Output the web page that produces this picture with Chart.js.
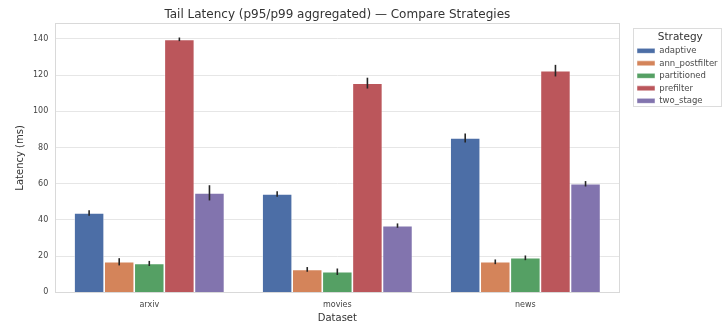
<!DOCTYPE html>
<html>
<head>
<meta charset="utf-8">
<script src="https://cdn.jsdelivr.net/npm/chart.js@4/dist/chart.umd.min.js"></script>
<style>
  html, body { margin: 0; padding: 0; background: #fff; }
  #wrap { width: 727px; height: 324px; }
</style>
</head>
<body>
<div id="wrap"><canvas id="c" width="727" height="324"></canvas></div>
<script>
// Datasets on the x axis
const datasets = ['arxiv', 'movies', 'news'];

// Strategies (one bar series each)
const strategies = ['adaptive', 'ann_postfilter', 'partitioned', 'prefilter', 'two_stage'];

// Mean tail latency (ms) per strategy, ordered as datasets
const adaptive      = [43.9, 54.4, 85.3];
const annPostfilter = [16.9, 12.7, 16.9];
const partitioned   = [16.0, 11.4, 19.1];
const prefilter     = [139.8, 115.6, 122.5];
const twoStage      = [55.0, 36.9, 60.0];

// Half-width of the error bars (ms)
const adaptiveErr      = [1.5, 1.5, 2.5];
const annPostfilterErr = [2.0, 1.3, 1.3];
const partitionedErr   = [1.4, 1.8, 1.3];
const prefilterErr     = [1.0, 3.0, 3.2];
const twoStageErr      = [4.2, 1.2, 1.5];

const seriesValues = [adaptive, annPostfilter, partitioned, prefilter, twoStage];
const seriesErrors = [adaptiveErr, annPostfilterErr, partitionedErr, prefilterErr, twoStageErr];
const palette = ['#4c6ea6', '#d4845a', '#55a064', '#bb565b', '#8274ae'];

const yTicks = [0, 20, 40, 60, 80, 100, 120, 140];

// Draws the error bars at each bar centre, using the value scale
const errorBars = {
  id: 'errorBars',
  afterDatasetsDraw(chart) {
    const ctx = chart.ctx;
    const y = chart.scales.y;
    ctx.save();
    ctx.strokeStyle = '#262626';
    ctx.lineWidth = 1.6;
    chart.data.datasets.forEach((ds, i) => {
      const meta = chart.getDatasetMeta(i);
      meta.data.forEach((bar, j) => {
        const v = ds.data[j], e = ds.errors[j];
        ctx.beginPath();
        ctx.moveTo(bar.x, y.getPixelForValue(v - e));
        ctx.lineTo(bar.x, y.getPixelForValue(v + e));
        ctx.stroke();
      });
    });
    ctx.restore();
  }
};

// Legend placement: top-right box beside the plot
const LEGEND_LEFT = 633;
const LEGEND_TOP = 28;
const LEGEND_BOX_W = 88;
const LEGEND_BOX_H = 78;

const boxPlacement = {
  id: 'boxPlacement',
  afterLayout(chart) {
    const lg = chart.legend;
    const w = lg.right - lg.left;
    lg.left = LEGEND_LEFT;
    lg.right = LEGEND_LEFT + w;
    lg.top = LEGEND_TOP;
    // centre the title over the plot area
    const t = chart.titleBlock;
    if (t) {
      t.left = chart.chartArea.left;
      t.right = chart.chartArea.right;
    }
  }
};

// Frame around the plot area and around the legend
const frames = {
  id: 'frames',
  afterDraw(chart) {
    const ctx = chart.ctx;
    const a = chart.chartArea;
    ctx.save();
    ctx.strokeStyle = '#d9d9d9';
    ctx.lineWidth = 1;
    ctx.strokeRect(Math.round(a.left) + 0.5, Math.round(a.top) + 0.5,
                   Math.round(a.right - a.left), Math.round(a.bottom - a.top));
    ctx.strokeStyle = '#dcdcdc';
    ctx.strokeRect(LEGEND_LEFT + 0.5, LEGEND_TOP + 0.5, LEGEND_BOX_W, LEGEND_BOX_H);
    ctx.restore();
  }
};

const fontFamily = '"DejaVu Sans", sans-serif';

new Chart(document.getElementById('c'), {
  type: 'bar',
  data: {
    labels: datasets,
    datasets: strategies.map((name, i) => ({
      label: name,
      data: seriesValues[i],
      errors: seriesErrors[i],
      backgroundColor: palette[i],
      borderColor: 'rgba(255,255,255,0.6)',
      borderWidth: 0.8,
      categoryPercentage: 0.8,
      barPercentage: 1.0
    }))
  },
  plugins: [boxPlacement, errorBars, frames],
  options: {
    responsive: false,
    animation: false,
    devicePixelRatio: 1,
    layout: { padding: { left: 14, right: 13, top: 0, bottom: 0 } },
    plugins: {
      title: {
        display: true,
        text: 'Tail Latency (p95/p99 aggregated) — Compare Strategies',
        color: '#333',
        font: { family: fontFamily, size: 12, weight: 'normal' },
        padding: { top: 8, bottom: 1 }
      },
      legend: {
        position: 'right',
        align: 'start',
        title: {
          display: true,
          text: 'Strategy',
          color: '#333',
          font: { family: fontFamily, size: 10.5 },
          padding: { top: 4, bottom: -2 }
        },
        labels: {
          boxWidth: 18,
          boxHeight: 5,
          padding: 4,
          color: '#4a4a4a',
          font: { family: fontFamily, size: 8.5 }
        }
      },
      tooltip: { enabled: false }
    },
    scales: {
      x: {
        grid: { display: false, drawTicks: false },
        border: { color: '#d9d9d9' },
        ticks: { color: '#444', padding: 8, font: { family: fontFamily, size: 8 } },
        title: {
          display: true, text: 'Dataset', color: '#333',
          font: { family: fontFamily, size: 10 }, padding: { top: -6, bottom: 0 }
        }
      },
      y: {
        min: 0,
        max: 148.6,
        afterBuildTicks(scale) { scale.ticks = yTicks.map(v => ({ value: v })); },
        grid: { color: '#e6e6e6', lineWidth: 1, drawTicks: false },
        border: { color: '#d9d9d9' },
        ticks: { color: '#444', padding: 7, font: { family: fontFamily, size: 8 } },
        title: {
          display: true, text: 'Latency (ms)', color: '#333',
          font: { family: fontFamily, size: 10 }, padding: { top: 0, bottom: 0 }
        }
      }
    }
  }
});
</script>
</body>
</html>
